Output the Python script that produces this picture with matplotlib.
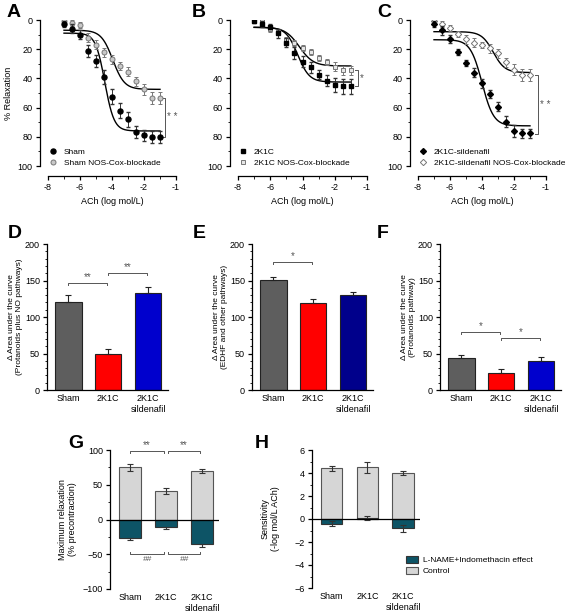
import matplotlib.pyplot as plt
import numpy as np
from matplotlib.patches import Patch
from matplotlib.lines import Line2D
from matplotlib.ticker import MultipleLocator, FixedLocator

plt.rcParams['font.family'] = ['Liberation Sans', 'DejaVu Sans']
plt.rcParams['font.size'] = 6.5
plt.rcParams['axes.linewidth'] = 0.9
plt.rcParams['xtick.major.width'] = 0.9
plt.rcParams['ytick.major.width'] = 0.9

W, H = 567, 613

# --- concentration-response curves (A-C) ---
ach = [-7, -6.5, -6, -5.5, -5, -4.5, -4, -3.5, -3, -2.5, -2, -1.5, -1]
ach_ticks = [-8, -6, -4, -2, 0]
ach_ticklabels = ['-8', '-6', '-4', '-2', '-1']

sham = [3, 6, 10, 21, 28, 39, 52.5, 62, 68, 76.5, 79, 80, 80]
sham_err = [2, 3, 3, 4, 4, 5, 5, 5, 5, 4, 4, 4, 4]
sham_blk = [1, 2, 3.5, 12, 17, 22, 27, 31.5, 35.5, 42, 47.5, 53.5, 53.5]
sham_blk_err = [2, 2, 2, 3, 3, 3, 3, 3, 3, 3, 4, 4, 4]

k2c = [1, 3, 4.5, 9, 15.5, 22.5, 28.5, 32.5, 37.5, 41.5, 44.5, 45.5, 45.5]
k2c_err = [1, 2, 2, 3, 3, 4, 4, 4, 3, 4, 5, 5, 5]
k2c_blk = [0.5, 1, 6, 8.5, 13.5, 15.5, 19, 22, 26, 29, 32, 34.5, 34.5]
k2c_blk_err = [1, 1, 2, 2, 2, 2, 2, 2, 2, 2, 3, 3, 3]

sil = [3, 7, 13, 21.7, 29.7, 36, 43.4, 50.7, 59.4, 69.6, 76, 77.6, 77.6]
sil_err = [2, 3, 3, 2, 2, 3, 3, 3, 3, 4, 4, 3, 3]
sil_blk = [1, 2.7, 5.3, 9.6, 13.2, 15.5, 17, 19.4, 22.8, 29, 34, 37.7, 37.7]
sil_blk_err = [1, 2, 2, 2, 3, 3, 2, 3, 3, 3, 4, 4, 4]

# fitted sigmoid parameters: top, bottom, logEC50, hill
fit_sham = (9, 76, -4.45, 1.5)
fit_sham_blk = (7, 47.5, -3.95, 1.2)
fit_k2c = (5, 42.5, -4.3, 1.2)
fit_k2c_blk = (5, 31.5, -4.2, 1.0)
fit_sil = (13.5, 72.5, -4.0, 1.2)
fit_sil_blk = (8, 36, -3.3, 1.2)

# --- bar panels (D-F) ---
groups = ['Sham', '2K1C', '2K1C\nsildenafil']
auc_total = [121, 49, 133]
auc_total_err = [9, 7, 8]
auc_edhf = [151, 119, 130]
auc_edhf_err = [4, 5, 4]
auc_pros = [44, 23, 40]
auc_pros_err = [4, 6, 5]

# --- G and H ---
maxrel_ctrl = [75, 41, 70]
maxrel_ctrl_err = [5, 4, 3]
maxrel_eff = [-26, -11, -35]
maxrel_eff_err = [4, 2, 5]
sens_ctrl = [4.4, 4.5, 4.0]
sens_ctrl_err = [0.2, 0.5, 0.15]
sens_eff = [-0.4, 0.1, -0.8]
sens_eff_err = [0.2, 0.2, 0.3]

CTRL = '#d6d6d6'
EFF = '#0d5466'


def sigmoid(x, top, bottom, ec, hill):
    return bottom + (top - bottom) / (1 + 10 ** ((x - ec) * hill))


def fig_axes(x0, x1, y0, y1):
    return fig.add_axes([x0 / W, 1 - y1 / H, (x1 - x0) / W, (y1 - y0) / H])


fig = plt.figure(figsize=(5.67, 6.13), dpi=100)


def curve_panel(ax, y1, e1, y2, e2, f1, f2, m1, m2, lab1, lab2, ystar, bx, star):
    xs = np.linspace(-7, -1, 200)
    ax.plot(xs, sigmoid(xs, *f1), color='black', lw=1.0)
    ax.plot(xs, sigmoid(xs, *f2), color='black', lw=1.0)
    ax.errorbar(ach, y2, yerr=e2, fmt=m2[0], ms=m2[1], mfc=m2[2], mec='#777777',
                mew=0.7, ecolor='#777777', elinewidth=0.7, capsize=1.2, zorder=3)
    ax.errorbar(ach, y1, yerr=e1, fmt=m1[0], ms=m1[1], mfc='black', mec='black',
                ecolor='#333333', elinewidth=0.7, capsize=1.2, zorder=4)
    ax.set_xlim(-8, 0)
    ax.set_ylim(100, 0)
    ax.spines['top'].set_visible(False)
    ax.spines['right'].set_visible(False)
    ax.spines['left'].set_position(('outward', 6))
    ax.spines['bottom'].set_position(('outward', 7.5))
    ax.xaxis.set_major_locator(FixedLocator(ach_ticks))
    ax.set_xticklabels(ach_ticklabels)
    ax.xaxis.set_minor_locator(FixedLocator([-7, -5, -3, -1]))
    ax.yaxis.set_major_locator(MultipleLocator(20))
    ax.yaxis.set_minor_locator(MultipleLocator(10))
    ax.tick_params(length=3, pad=2, labelsize=6.5)
    ax.tick_params(which='minor', length=1.8)
    ax.set_xlabel('ACh (log mol/L)', fontsize=6.5, labelpad=3)
    # significance bracket
    ax.plot([bx - 0.2, bx, bx, bx - 0.2], [ystar[0], ystar[0], ystar[1], ystar[1]],
            color='#555555', lw=0.7, clip_on=False)
    ax.text(bx + 0.12, (ystar[0] + ystar[1]) / 2, star, fontsize=7, color='#555555',
            ha='left', va='center')
    handles = [Line2D([], [], ls='none', marker=m1[0], ms=m1[1], mfc='black', mec='black'),
               Line2D([], [], ls='none', marker=m2[0], ms=m2[1], mfc=m2[2],
                      mec='#777777', mew=0.7)]
    ax.legend(handles, [lab1, lab2], loc='lower left', bbox_to_anchor=(-0.02, -0.03),
              frameon=False, fontsize=6, handletextpad=0.8, labelspacing=0.35,
              handlelength=1.0, borderaxespad=0)


axA = fig_axes(48, 176, 20, 166)
curve_panel(axA, sham, sham_err, sham_blk, sham_blk_err, fit_sham, fit_sham_blk,
            ('o', 3.6), ('o', 3.6, '#c8c8c8'), 'Sham', 'Sham NOS-Cox-blockade',
            (53.5, 80), -0.7, '* *')
axA.set_ylabel('% Relaxation', fontsize=6.5)
axA.yaxis.set_label_coords(-0.27, 0.5)

axB = fig_axes(238, 367, 20, 166)
curve_panel(axB, k2c, k2c_err, k2c_blk, k2c_blk_err, fit_k2c, fit_k2c_blk,
            ('s', 3.2), ('s', 3.2, '#e6e6e6'), '2K1C', '2K1C NOS-Cox-blockade',
            (34, 45.5), -0.55, '*')

axC = fig_axes(418, 546, 20, 166)
curve_panel(axC, sil, sil_err, sil_blk, sil_blk_err, fit_sil, fit_sil_blk,
            ('D', 3.0), ('D', 3.2, 'white'), '2K1C-sildenafil',
            '2K1C-sildenafil NOS-Cox-blockade', (38, 78), -0.5, '* *')


def bar_panel(ax, vals, errs, colors, ylabel, brackets):
    x = np.arange(len(groups))
    ax.bar(x, vals, width=0.67, color=colors, edgecolor='#222222', linewidth=0.8)
    ax.errorbar(x, vals, yerr=[[0] * len(errs), errs], fmt='none', ecolor='#222222',
                elinewidth=0.8, capsize=2.5, capthick=0.8)
    ax.set_xlim(-0.53, 2.5)
    ax.set_ylim(0, 200)
    ax.spines['top'].set_visible(False)
    ax.spines['right'].set_visible(False)
    ax.set_xticks(x)
    ax.set_xticklabels(groups, fontsize=6.5)
    ax.tick_params(axis='x', length=0, pad=3)
    ax.yaxis.set_major_locator(MultipleLocator(50))
    ax.yaxis.set_minor_locator(MultipleLocator(10))
    ax.tick_params(axis='y', length=3, pad=2, labelsize=6.5)
    ax.tick_params(axis='y', which='minor', length=1.8)
    ax.set_ylabel(ylabel, fontsize=6)
    ax.yaxis.set_label_coords(-0.2, 0.5)
    for x0, x1, y, s in brackets:
        ax.plot([x0, x0, x1, x1], [y - 3, y, y, y - 3], color='#555555', lw=0.7)
        ax.text((x0 + x1) / 2, y + 1, s, ha='center', va='bottom', fontsize=7,
                color='#555555')


axD = fig_axes(47, 168, 244, 390)
bar_panel(axD, auc_total, auc_total_err, ['#5e5e5e', '#ff0000', '#0000cd'],
          '\u0394 Area under the curve\n(Protanoids plus NO pathways)',
          [(0, 0.97, 147, '**'), (1.0, 1.97, 160, '**')])

axE = fig_axes(252, 373, 244, 390)
bar_panel(axE, auc_edhf, auc_edhf_err, ['#5e5e5e', '#ff0000', '#00008b'],
          '\u0394 Area under the curve\n(EDHF and other pathways)',
          [(0, 0.97, 175, '*')])

axF = fig_axes(440, 561, 244, 390)
bar_panel(axF, auc_pros, auc_pros_err, ['#5e5e5e', '#ff0000', '#0000cd'],
          '\u0394 Area under the curve\n(Protanoids pathway)',
          [(0, 0.97, 80, '*'), (1.0, 1.97, 71, '*')])


def stacked_panel(ax, ctrl, ctrl_err, eff, eff_err, eff_lower_only, ylim, major, minor, ylabel):
    x = np.arange(len(groups))
    ax.bar(x, ctrl, width=0.6, color=CTRL, edgecolor='#555555', linewidth=0.8, zorder=2)
    ax.bar(x, eff, width=0.6, color=EFF, edgecolor='#333333', linewidth=0.8, zorder=2)
    ax.errorbar(x, ctrl, yerr=ctrl_err, fmt='none', ecolor='#333333', elinewidth=0.8,
                capsize=2.5, capthick=0.8, zorder=3)
    if eff_lower_only:
        yerr = [eff_err, [0] * len(eff_err)]
    else:
        yerr = eff_err
    ax.errorbar(x, eff, yerr=yerr, fmt='none', ecolor='#333333', elinewidth=0.8,
                capsize=2.5, capthick=0.8, zorder=3)
    ax.axhline(0, color='black', lw=0.9, zorder=4)
    ax.set_xlim(-0.55, 2.47)
    ax.set_ylim(*ylim)
    for s in ['top', 'right', 'bottom']:
        ax.spines[s].set_visible(False)
    ax.set_xticks(x)
    ax.set_xticklabels(groups, fontsize=6.5)
    ax.tick_params(axis='x', length=0, pad=3)
    ax.yaxis.set_major_locator(MultipleLocator(major))
    ax.yaxis.set_minor_locator(MultipleLocator(minor))
    ax.tick_params(axis='y', length=3, pad=2, labelsize=6.5)
    ax.tick_params(axis='y', which='minor', length=1.8)
    ax.set_ylabel(ylabel, fontsize=6.5)
    ax.yaxis.set_label_coords(-0.3, 0.5)


axG = fig_axes(110, 219, 450, 589)
stacked_panel(axG, maxrel_ctrl, maxrel_ctrl_err, maxrel_eff, maxrel_eff_err, True,
              (-100, 100), 50, 25, 'Maximum relaxation\n(% precontraction)')
for x0, x1 in [(0, 0.95), (1.05, 1.95)]:
    axG.plot([x0, x0, x1, x1], [96, 99, 99, 96], color='#555555', lw=0.7, clip_on=False)
    axG.text((x0 + x1) / 2, 100, '**', ha='center', va='bottom', fontsize=7,
             color='#555555', clip_on=False)
    axG.plot([x0, x0, x1, x1], [-47, -50, -50, -47], color='#555555', lw=0.7)
    axG.text((x0 + x1) / 2, -53, '##', ha='center', va='top', fontsize=6,
             color='#555555', style='italic')

axH = fig_axes(312, 420, 450, 588)
stacked_panel(axH, sens_ctrl, sens_ctrl_err, sens_eff, sens_eff_err, False,
              (-6, 6), 2, 1, 'Sensitivity\n(-log mol/L ACh)')
fig.legend(handles=[Patch(facecolor=EFF, edgecolor='#333333', lw=0.8),
                    Patch(facecolor=CTRL, edgecolor='#555555', lw=0.8)],
           labels=['L-NAME+Indomethacin effect', 'Control'],
           loc='upper left', bbox_to_anchor=(403 / W, 1 - 553 / H), frameon=False,
           fontsize=6, handlelength=1.4, handleheight=0.8, labelspacing=0.35,
           handletextpad=0.6, borderaxespad=0)

# panel letters
for letter, px, py in [('A', 7, 4), ('B', 192, 4), ('C', 377, 4),
                       ('D', 8, 225), ('E', 193, 225), ('F', 377, 225),
                       ('G', 68, 435), ('H', 255, 435)]:
    fig.text(px / W, 1 - py / H, letter, fontsize=14, fontweight='bold',
             ha='left', va='top')

fig.savefig('out.png', dpi=100, facecolor='white')
